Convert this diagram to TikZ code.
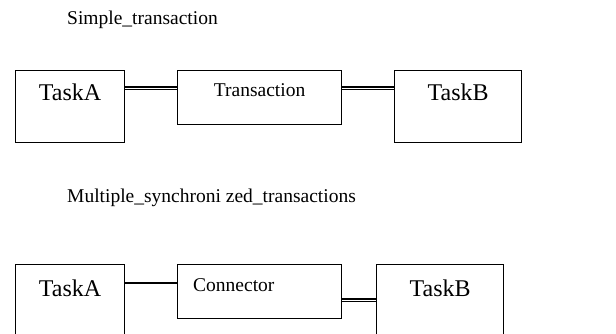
\documentclass[tikz,border=0pt]{standalone}
\usepackage{fontspec}
\setmainfont{Liberation Serif}
\usetikzlibrary{positioning}

\begin{document}
\begin{tikzpicture}[
    x=1pt, y=-1pt,
    box/.style={rectangle, draw, line width=1.2pt, anchor=north west, inner sep=0pt},
    taskbox/.style={box, minimum width=109pt, minimum height=90pt},
    linkbox/.style={box, minimum width=164pt, minimum height=54pt},
    taskname/.style={font=\fontsize{24}{28}\selectfont},
    linkname/.style={font=\fontsize{19.5}{23}\selectfont},
    heading/.style={font=\fontsize{19.5}{23}\selectfont, anchor=base west, inner sep=0pt},
    dbl/.style={double, line width=1.2pt, double distance=0.9pt},
    thick link/.style={line width=2.8pt},
  ]
    \useasboundingbox (0,0) rectangle (616,333);
    \clip (0,0) rectangle (616,333);

    % simple transaction
    \node[heading] (title1) at (67,24) {Simple\_transaction};
    \node[taskbox, minimum height=72pt] (taskA1) at (15,70) {};
    \node[linkbox] (trans) at (177,70) {};
    \node[taskbox, minimum width=127pt, minimum height=72pt] (taskB1) at (394,70) {};
    \node[taskname] (nameA1) at ([yshift=-22pt]taskA1.north) {TaskA};
    \node[linkname] (transname) at ([yshift=-20pt]trans.north) {Transaction};
    \node[taskname] (nameB1) at ([yshift=-22pt]taskB1.north) {TaskB};
    \draw[dbl] ([yshift=-18pt]taskA1.north east) -- ([yshift=-18pt]trans.north west);
    \draw[dbl] ([yshift=-18pt]trans.north east) -- ([yshift=-18pt]taskB1.north west);

    % multiple synchronized transactions
    \node[heading] (title2) at (67,202) {Multiple\_synchroni zed\_transactions};
    \node[taskbox] (taskA2) at (15,264) {};
    \node[linkbox] (conn) at (177,264) {};
    \node[taskbox, minimum width=127pt] (taskB2) at (376,264) {};
    \node[taskname] (nameA2) at ([yshift=-24pt]taskA2.north) {TaskA};
    \node[linkname, anchor=west, inner sep=0pt] (connname) at ([xshift=16pt, yshift=-21pt]conn.north west) {Connector};
    \node[taskname] (nameB2) at ([yshift=-24pt]taskB2.north) {TaskB};
    \draw[thick link] ([yshift=-19pt]taskA2.north east) -- ([yshift=-19pt]conn.north west);
    \draw[dbl] ([yshift=-36pt]conn.north east) -- ([yshift=-36pt]taskB2.north west);
\end{tikzpicture}
\end{document}
